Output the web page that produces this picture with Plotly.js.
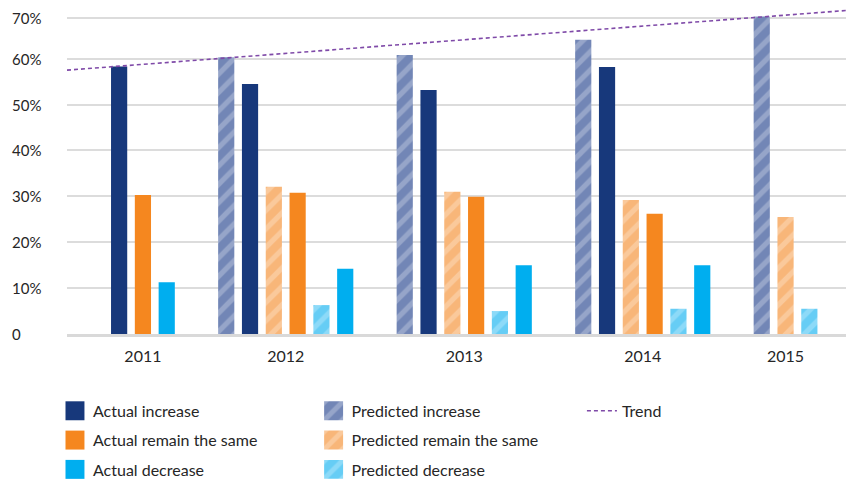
<!DOCTYPE html>
<html>
<head>
<meta charset="utf-8">
<script src="https://cdn.plot.ly/plotly-3.0.1.min.js"></script>
<style>
  html, body { margin: 0; padding: 0; background: #ffffff; }
  #chart { width: 846px; height: 480px; }
</style>
</head>
<body>
<div id="chart"></div>
<script>
// Survey years shown on the category axis
const years = ['2011', '2012', '2013', '2014', '2015'];

// Share of respondents (fraction of 1); null where no figure exists for that year
const actualIncrease    = [0.583, 0.545, 0.532, 0.582, null];
const actualSame        = [0.303, 0.308, 0.299, 0.262, null];
const actualDecrease    = [0.113, 0.142, 0.150, 0.150, null];
const predictedIncrease = [null, 0.603, 0.608, 0.641, 0.692];
const predictedSame     = [null, 0.321, 0.310, 0.292, 0.255];
const predictedDecrease = [null, 0.063, 0.050, 0.055, 0.055];

// Linear trend: value at the left and right edge of the plot
const trendValues = [0.575, 0.705];

// Y-axis gridline values and their labels
const yTickVals = [0, 0.1, 0.2, 0.3, 0.4, 0.5, 0.6, 0.689];
const yTickText = ['0', '10%', '20%', '30%', '40%', '50%', '60%', '70%'];

// Series in the order they sit inside each year group
const series = [
  { name: 'Predicted increase',        values: predictedIncrease, color: '#7286b6', stripe: '#b9c4dc', legend: 'legend2' },
  { name: 'Actual increase',           values: actualIncrease,    color: '#17387b', legend: 'legend' },
  { name: 'Predicted remain the same', values: predictedSame,     color: '#f8b679', stripe: '#fcdcbe', legend: 'legend2' },
  { name: 'Actual remain the same',    values: actualSame,        color: '#f5871f', legend: 'legend' },
  { name: 'Predicted decrease',        values: predictedDecrease, color: '#66cdf5', stripe: '#b3e7fb', legend: 'legend2' },
  { name: 'Actual decrease',           values: actualDecrease,    color: '#00aeef', legend: 'legend' }
];

// Pack the bars of each year side by side, leaving a gap between years
const GROUP_GAP = 2.5;   // distance (in bar slots) from last bar of a group to the first of the next
const BAR_WIDTH = 0.68;
const positions = series.map(() => years.map(() => null));
const groupCenters = [];
let cursor = 0;
years.forEach((y, i) => {
  const present = series.map((s, k) => k).filter(k => series[k].values[i] !== null);
  present.forEach((k, j) => { positions[k][i] = cursor + j; });
  groupCenters.push(cursor + (present.length - 1) / 2);
  cursor += present.length - 1 + GROUP_GAP;
});

const X_RANGE = [-2.19, 30.54];
const Y_RANGE = [0, 0.717];

const textColor = '#262626';
const fontFamily = 'Lato, "Open Sans", sans-serif';

const traces = series.map((s, k) => {
  const marker = { color: s.color, line: { width: 0 } };
  if (s.stripe) {
    marker.pattern = { shape: '/', fillmode: 'overlay', bgcolor: s.color, fgcolor: s.stripe, size: 13, solidity: 0.4 };
  }
  return {
    type: 'bar',
    name: s.name,
    x: positions[k],
    y: s.values,
    width: BAR_WIDTH,
    marker: marker,
    legend: s.legend,
    legendgroup: s.name,
    hoverinfo: 'name+y'
  };
});

traces.push({
  type: 'scatter',
  mode: 'lines',
  name: 'Trend',
  x: X_RANGE,
  y: trendValues,
  line: { color: '#7f4aa8', width: 1.6, dash: '4px,3px' },
  legend: 'legend3',
  legendgroup: 'Trend'
});

// Left-aligned value labels for the y gridlines
const yLabels = yTickVals.map((v, i) => ({
  xref: 'paper', yref: 'y', x: 0, y: v,
  xanchor: 'left', yanchor: 'middle', xshift: -57,
  text: yTickText[i], showarrow: false,
  font: { family: fontFamily, size: 15, color: textColor }
}));

const legendBase = {
  orientation: 'v',
  xanchor: 'left', yanchor: 'top',
  yref: 'paper', xref: 'paper',
  bgcolor: 'rgba(0,0,0,0)',
  font: { family: fontFamily, size: 16, color: textColor },
  traceorder: 'grouped',
  tracegroupgap: 5.5,
  itemclick: false
};

const layout = {
  width: 846,
  height: 480,
  margin: { l: 67, r: 0, t: 5, b: 146, autoexpand: false },
  paper_bgcolor: '#ffffff',
  plot_bgcolor: '#ffffff',
  showlegend: true,
  barmode: 'overlay',
  font: { family: fontFamily, color: textColor },
  xaxis: {
    range: X_RANGE,
    tickvals: groupCenters,
    ticktext: years,
    showgrid: false,
    zeroline: false,
    showline: true,
    linecolor: '#d9d9d9',
    linewidth: 3,
    ticks: '',
    ticklabelstandoff: 6,
    tickfont: { family: fontFamily, size: 16, color: textColor },
    fixedrange: true
  },
  yaxis: {
    range: Y_RANGE,
    tickvals: yTickVals,
    showticklabels: false,
    showgrid: true,
    gridcolor: '#dcdcdc',
    gridwidth: 2,
    zeroline: false,
    showline: false,
    ticks: '',
    fixedrange: true
  },
  annotations: yLabels,
  legend:  Object.assign({}, legendBase, { x: -0.018, y: -0.182 }),
  legend2: Object.assign({}, legendBase, { x: 0.314, y: -0.182 }),
  legend3: Object.assign({}, legendBase, { x: 0.661, y: -0.182 })
};

Plotly.newPlot('chart', traces, layout, { displayModeBar: false, staticPlot: true }).then(gd => {
  // Enlarge the square swatches of the bar entries in the legends
  gd.querySelectorAll('g.legendpoints path').forEach(p => {
    const base = p.getAttribute('transform') || '';
    p.setAttribute('transform', base + ' translate(2,0) scale(1.58)');
  });
});
</script>
</body>
</html>
